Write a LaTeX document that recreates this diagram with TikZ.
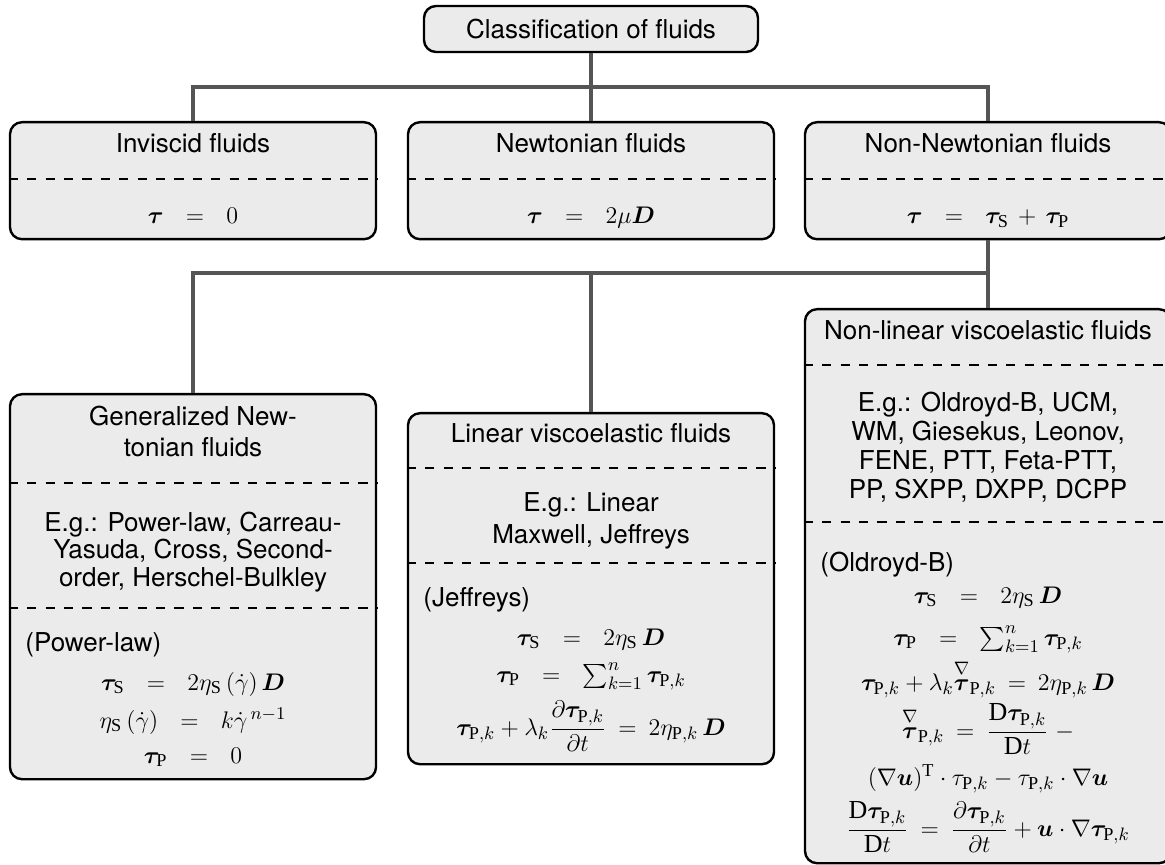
\documentclass[tikz,border=0pt]{standalone}
\usepackage{amsmath}
\usepackage{bm}
\usepackage{fontspec}
\setmainfont{TeX Gyre Heros}
\setmathrm{Liberation Serif}

\definecolor{boxgray}{HTML}{EBEBEB}
\definecolor{linkgray}{HTML}{555555}
\newcommand\fs{\fontsize{13}{15}\selectfont}
% spacing around the equals sign
\newcommand\EqW{\hspace{0.6em}=\hspace{0.6em}}
\newcommand\EqN{\hspace{0.2em}=\hspace{0.2em}}
\newcommand\bt{\bm{\tau}}
\newcommand\bD{\bm{D}}
\newcommand\bu{\bm{u}}
\newcommand\tS{\bt_{\mathrm{S}}}
\newcommand\tP{\bt_{\mathrm{P}}}
\newcommand\tPk{\bt_{\mathrm{P},k}}
\newcommand\uct{\overset{\nabla}{\bt}{}_{\mathrm{P},k}}

\tikzset{
  box/.style={draw=black, line width=1.2pt, rounded corners=6pt, fill=boxgray,
              inner sep=0pt, font=\fs},
  lbl/.style={font=\fs, inner sep=0pt, anchor=base},
  lbll/.style={lbl, anchor=base west},
  sepline/.style={dash pattern=on 4.6pt off 4.6pt, line width=0.9pt},
  link/.style={draw=linkgray, line width=1.6pt},
}

\begin{document}
\begin{tikzpicture}[x=0.5pt,y=-0.5pt]
\useasboundingbox (0,0) rectangle (1165,865);
\clip (0,0) rectangle (1165,865);

% ---- boxes ----
\node[box, minimum width=167pt, minimum height=23pt] (root) at (591,29) {Classification of fluids};

\node[box, minimum width=183pt, minimum height=58.5pt, anchor=north] (inv) at (193,121) {};
\node[box, minimum width=183pt, minimum height=58.5pt, anchor=north] (newt) at (591,121) {};
\node[box, minimum width=183pt, minimum height=58.5pt, anchor=north] (nonnewt) at (988,121) {};

\node[box, minimum width=183pt, minimum height=192.5pt, anchor=north] (gen) at (193,393) {};
\node[box, minimum width=183pt, minimum height=175.5pt, anchor=north] (lin) at (591,412) {};
\node[box, minimum width=183pt, minimum height=277pt, anchor=north] (nonlin) at (988,308) {};

% ---- connectors ----
\coordinate (busA) at (591,87);
\coordinate (busB) at (988,273);
\draw[link] (root.south) -- (newt.north);
\draw[link] (inv.north) |- (busA) -| (nonnewt.north);
\draw[link] (nonnewt.south) -- (nonlin.north);
\draw[link] (gen.north) |- (busB);
\draw[link] (lin.north) -- (lin.north |- busB);

% ---- separators ----
\foreach \b in {inv,newt,nonnewt}
  \draw[sepline] ([yshift=-29pt]\b.north west) -- ([yshift=-29pt]\b.north east);
\draw[sepline] ([yshift=-45pt]gen.north west) -- ([yshift=-45pt]gen.north east);
\draw[sepline] ([yshift=-107.5pt]gen.north west) -- ([yshift=-107.5pt]gen.north east);
\draw[sepline] ([yshift=-28pt]lin.north west) -- ([yshift=-28pt]lin.north east);
\draw[sepline] ([yshift=-75.5pt]lin.north west) -- ([yshift=-75.5pt]lin.north east);
\draw[sepline] ([yshift=-28.5pt]nonlin.north west) -- ([yshift=-28.5pt]nonlin.north east);
\draw[sepline] ([yshift=-107pt]nonlin.north west) -- ([yshift=-107pt]nonlin.north east);

% ---- first level ----
\node[lbl] (invT) at (193,153) {Inviscid fluids};
\node[lbl] (invE) at (193,224) {$\bt\EqW 0$};
\node[lbl] (newtT) at (591,153) {Newtonian fluids};
\node[lbl] (newtE) at (591,224) {$\bt\EqW 2\mu\bD$};
\node[lbl] (nonnewtT) at (988,153) {Non-Newtonian fluids};
\node[lbl] (nonnewtE) at (988,224) {$\bt\EqW \tS \mathbin{\hspace{0.15em}+\hspace{0.15em}} \tP$};

% ---- generalized Newtonian ----
\node[lbl] (genT1) at (193,425) {Generalized New-};
\node[lbl] (genT2) at (193,456) {tonian fluids};
\node[lbl] (genG1) at (193,531) {E.g.: Power-law, Carreau-};
\node[lbl] (genG2) at (193,558) {Yasuda, Cross, Second-};
\node[lbl] (genG3) at (193,586) {order, Herschel-Bulkley};
\node[lbll] (genM) at (25,651) {(Power-law)};
\node[lbl] (genE1) at (193,690) {$\tS\EqW 2\eta_{\mathrm{S}}\,(\dot{\gamma})\,\bD$};
\node[lbl] (genE2) at (193,728) {$\eta_{\mathrm{S}}\,(\dot{\gamma})\EqW k\dot{\gamma}^{\,n-1}$};
\node[lbl] (genE3) at (193,763) {$\tP\EqW 0$};

% ---- linear viscoelastic ----
\node[lbl] (linT) at (591,443) {Linear viscoelastic fluids};
\node[lbl] (linG1) at (591,511) {E.g.: Linear};
\node[lbl] (linG2) at (591,543) {Maxwell, Jeffreys};
\node[lbll] (linM) at (423,606) {(Jeffreys)};
\node[lbl] (linE1) at (591,645) {$\tS\EqW 2\eta_{\mathrm{S}}\,\bD$};
\node[lbl] (linE2) at (591,682) {$\tP\EqW \sum_{k=1}^{n}\tPk$};
\node[lbl] (linE3) at (591,735) {$\tPk + \lambda_k\dfrac{\partial\tPk}{\partial t}\EqN 2\eta_{\mathrm{P},k}\,\bD$};

% ---- non-linear viscoelastic ----
\node[lbl] (nlT) at (988,340) {Non-linear viscoelastic fluids};
\node[lbl] (nlG1) at (988,411) {E.g.: Oldroyd-B, UCM,};
\node[lbl] (nlG2) at (988,440) {WM, Giesekus, Leonov,};
\node[lbl] (nlG3) at (988,469) {FENE, PTT, Feta-PTT,};
\node[lbl] (nlG4) at (988,498) {PP, SXPP, DXPP, DCPP};
\node[lbll] (nlM) at (820,571) {(Oldroyd-B)};
\node[lbl] (nlE1) at (988,603) {$\tS\EqW 2\eta_{\mathrm{S}}\,\bD$};
\node[lbl] (nlE2) at (988,645) {$\tP\EqW \sum_{k=1}^{n}\tPk$};
\node[lbl] (nlE3) at (988,690) {$\tPk + \lambda_k\uct\EqN 2\eta_{\mathrm{P},k}\,\bD$};
\node[lbl] (nlE4) at (988,738) {$\uct\EqN\dfrac{\mathrm{D}\tPk}{\mathrm{D}t}\;-$};
\node[lbl] (nlE5) at (988,785) {$(\nabla\bu)^{\mathrm{T}}\cdot\tau_{\mathrm{P},k}-\tau_{\mathrm{P},k}\cdot\nabla\bu$};
\node[lbl] (nlE6) at (988,836) {$\dfrac{\mathrm{D}\tPk}{\mathrm{D}t}\EqN\dfrac{\partial\tPk}{\partial t}+\bu\cdot\nabla\tPk$};
\end{tikzpicture}
\end{document}
